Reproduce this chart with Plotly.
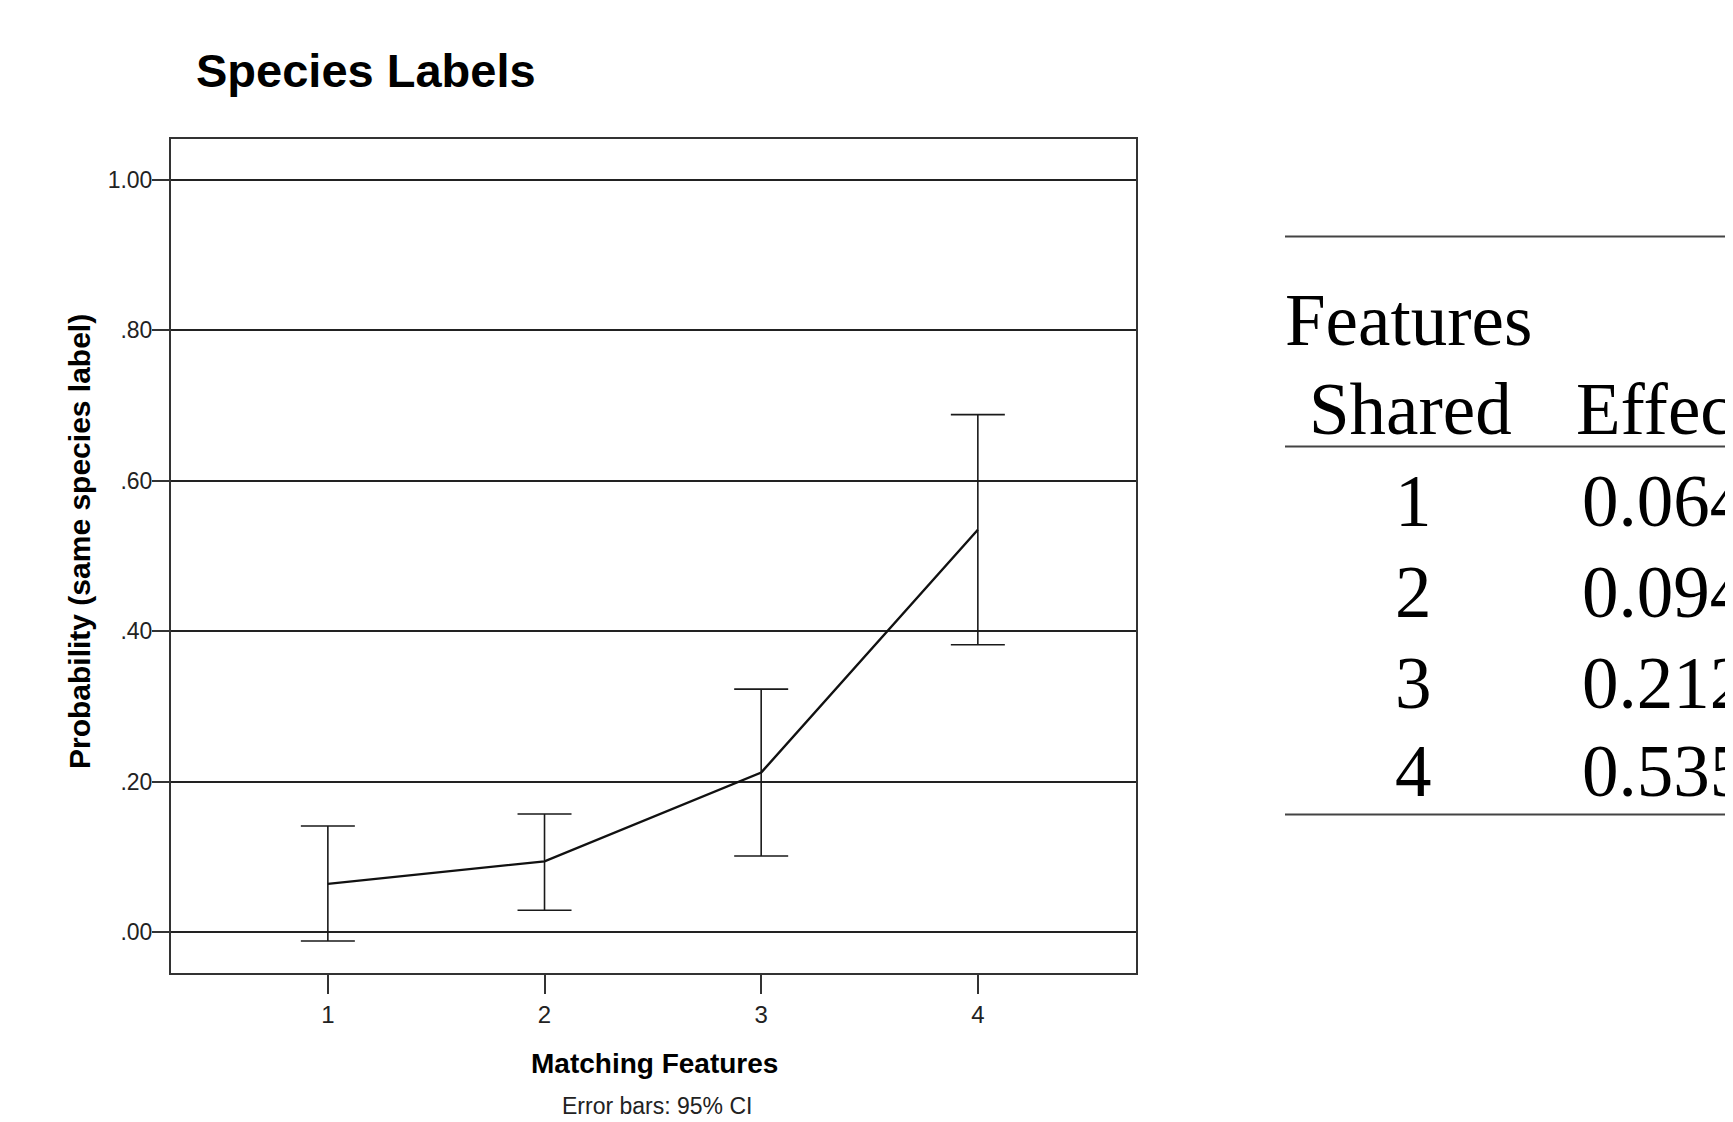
import plotly.graph_objects as go

# ---- data ----
features = [1, 2, 3, 4]
means = [0.064, 0.094, 0.212, 0.535]
ci_upper = [0.141, 0.157, 0.323, 0.688]
ci_lower = [-0.012, 0.029, 0.101, 0.382]
y_tickvals = [0.0, 0.2, 0.4, 0.6, 0.8, 1.0]
y_ticktext = [".00", ".20", ".40", ".60", ".80", "1.00"]
x_ticktext = ["1", "2", "3", "4"]
table_header = ["Features", "Shared", "Effect"]

# page has an 8px body margin; figure sized to fill the rest of the window
OFF = 8
W, H = 1733 - OFF, 1122 - OFF
ML, MR, MT, MB = 171 - OFF, 597, 139 - OFF, 149
PW, PH = W - ML - MR, H - MT - MB


def px(xp):
    # page pixel x -> paper coordinate
    return (xp - OFF - ML) / PW


def py(yp):
    # page pixel y -> paper coordinate
    return (H - MB - (yp - OFF)) / PH


SANS = "Liberation Sans, Arial, sans-serif"
SERIF = "Liberation Serif, Times New Roman, serif"

fig = go.Figure()
fig.add_trace(go.Scatter(
    x=features, y=means, mode="lines",
    line=dict(color="#111111", width=2.4),
    error_y=dict(
        type="data", symmetric=False,
        array=[u - m for u, m in zip(ci_upper, means)],
        arrayminus=[m - l for m, l in zip(means, ci_lower)],
        color="#1a1a1a", thickness=1.6, width=27,
    ),
    showlegend=False, hoverinfo="skip",
))

annotations = []
# chart title
annotations.append(dict(text="<b>Species Labels</b>", x=px(194), y=py(70),
                        xref="paper", yref="paper", xanchor="left", yanchor="middle",
                        showarrow=False, font=dict(family=SANS, size=47, color="#000")))
# y title
annotations.append(dict(text="<b>Probability (same species label)</b>", x=px(79), y=py(542),
                        xref="paper", yref="paper", xanchor="center", yanchor="middle",
                        textangle=-90, showarrow=False,
                        font=dict(family=SANS, size=30, color="#000")))
# x title
annotations.append(dict(text="<b>Matching Features</b>", x=px(654), y=py(1063),
                        xref="paper", yref="paper", xanchor="center", yanchor="middle",
                        showarrow=False, font=dict(family=SANS, size=28, color="#000")))
annotations.append(dict(text="Error bars: 95% CI", x=px(657), y=py(1106),
                        xref="paper", yref="paper", xanchor="center", yanchor="middle",
                        showarrow=False, font=dict(family=SANS, size=23, color="#222")))

# table
tfont = dict(family=SERIF, size=73, color="#000")
annotations.append(dict(text=table_header[0], x=px(1283), y=py(320), xref="paper", yref="paper",
                        xanchor="left", yanchor="middle", showarrow=False, font=tfont))
annotations.append(dict(text=table_header[1], x=px(1307), y=py(409), xref="paper", yref="paper",
                        xanchor="left", yanchor="middle", showarrow=False, font=tfont))
annotations.append(dict(text=table_header[2], x=px(1574), y=py(409), xref="paper", yref="paper",
                        xanchor="left", yanchor="middle", showarrow=False, font=tfont))
row_y = [501, 592, 683, 771]
for f, m, ry in zip(features, means, row_y):
    annotations.append(dict(text=str(f), x=px(1413), y=py(ry), xref="paper", yref="paper",
                            xanchor="center", yanchor="middle", showarrow=False, font=tfont))
    annotations.append(dict(text=f"{m:.3f}", x=px(1580), y=py(ry), xref="paper", yref="paper",
                            xanchor="left", yanchor="middle", showarrow=False, font=tfont))

shapes = []
for ry in [236.5, 446.5, 814.5]:
    shapes.append(dict(type="line", xref="paper", yref="paper",
                       x0=px(1285), x1=px(1733 + 20), y0=py(ry), y1=py(ry),
                       line=dict(color="#444", width=2)))

fig.update_layout(
    width=W, height=H, autosize=False,
    margin=dict(l=ML, r=MR, t=MT, b=MB, pad=0),
    paper_bgcolor="white", plot_bgcolor="white",
    annotations=annotations, shapes=shapes,
    xaxis=dict(range=[0.276, 4.73], tickvals=features, ticktext=x_ticktext,
               showgrid=False, zeroline=False,
               showline=True, mirror=True, linecolor="#333", linewidth=2,
               ticks="outside", ticklen=19, tickwidth=1.5, tickcolor="#333",
               tickfont=dict(family=SANS, size=24, color="#222")),
    yaxis=dict(range=[-0.0545, 1.0545], tickvals=y_tickvals, ticktext=y_ticktext,
               showgrid=True, gridcolor="#222", gridwidth=1.6, zeroline=False,
               showline=True, mirror=True, linecolor="#333", linewidth=2,
               ticks="outside", ticklen=17, tickwidth=1.5, tickcolor="#333",
               ticklabelstandoff=-5,
               tickfont=dict(family=SANS, size=23, color="#222")),
)

fig.write_html("out.html")
